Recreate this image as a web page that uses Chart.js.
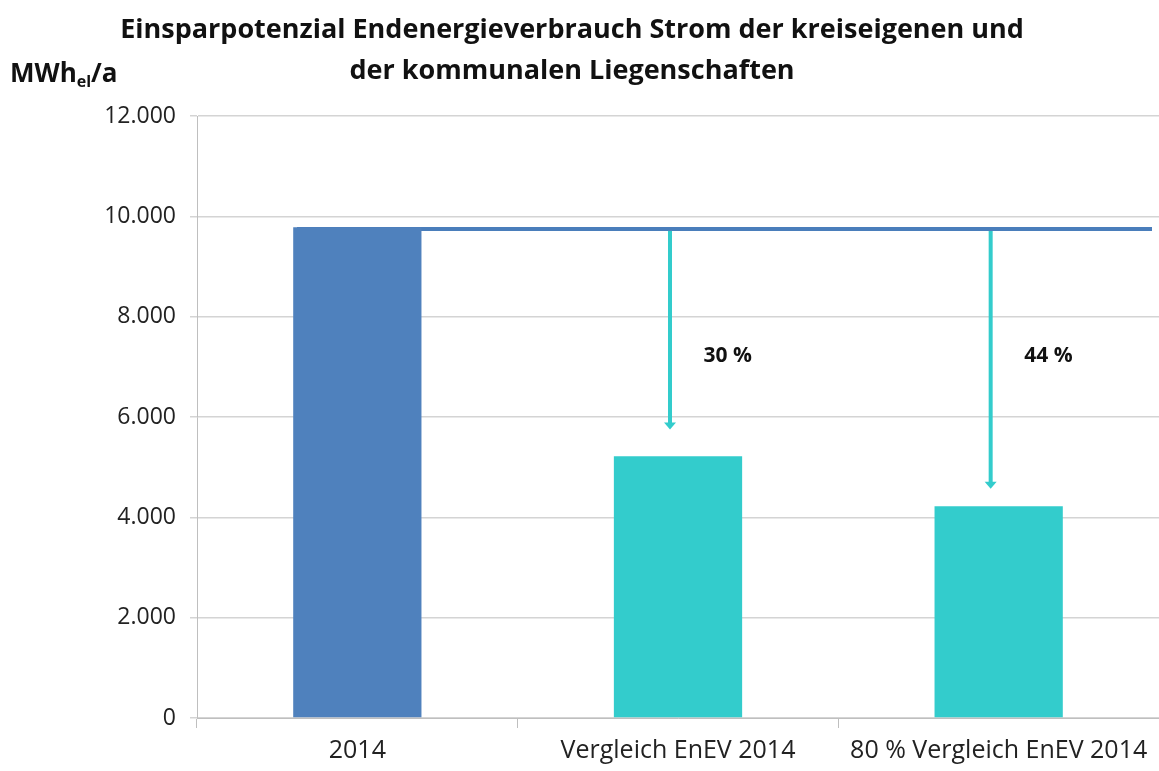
<!DOCTYPE html>
<html>
<head>
<meta charset="utf-8">
<script src="https://cdn.jsdelivr.net/npm/chart.js@4/dist/chart.umd.min.js"></script>
<style>
  html, body { margin: 0; padding: 0; background: #fff; }
  #wrap { width: 1159px; height: 771px; }
</style>
</head>
<body>
<div id="wrap"><canvas id="graficoStrom"></canvas></div>
<script>
// Einsparpotenzial Strom
const kategorien = ['2014', 'Vergleich EnEV 2014', '80 % Vergleich EnEV 2014'];
const verbrauch = [9780, 5220, 4220];
const farben = ['rgb(79,129,189)', 'rgb(51,204,204)', 'rgb(51,204,204)'];
const referenzWert = 9750;
const pfeilSpitzen = [null, 5750, 4570];
const prozentTexte = ['', '30 %', '44 %'];
const prozentHoehe = 7220;
const yTicks = [0, 2000, 4000, 6000, 8000, 10000, 12000];

const schrift = '"Open Sans", Lato, sans-serif';

// Referenzlinie, Pfeile, Titel und Einheit
const zusatz = {
    id: 'zusatz',
    beforeDatasetsDraw(chart) {
        const ctx = chart.ctx, y = chart.scales.y, a = chart.chartArea;
        const yy = y.getPixelForValue(referenzWert);
        ctx.save();
        ctx.strokeStyle = 'rgb(74,126,187)';
        ctx.lineWidth = 4;
        ctx.beginPath();
        ctx.moveTo(a.left + 100, yy);
        ctx.lineTo(a.right - 7, yy);
        ctx.stroke();
        ctx.restore();
    },
    afterDatasetsDraw(chart) {
        const ctx = chart.ctx, x = chart.scales.x, y = chart.scales.y;
        const yStart = y.getPixelForValue(referenzWert) + 2;
        const breite = x.getPixelForValue(1) - x.getPixelForValue(0);
        ctx.save();
        pfeilSpitzen.forEach((v, i) => {
            if (v === null) return;
            const px = x.getPixelForValue(i) - 8;
            const yEnd = y.getPixelForValue(v);
            ctx.strokeStyle = 'rgb(51,204,204)';
            ctx.fillStyle = 'rgb(51,204,204)';
            ctx.lineWidth = 4;
            ctx.beginPath();
            ctx.moveTo(px, yStart);
            ctx.lineTo(px, yEnd - 6);
            ctx.stroke();
            ctx.beginPath();
            ctx.moveTo(px - 6, yEnd - 7);
            ctx.lineTo(px + 6, yEnd - 7);
            ctx.lineTo(px, yEnd);
            ctx.closePath();
            ctx.fill();

            ctx.fillStyle = '#111';
            ctx.font = 'bold 21px ' + schrift;
            ctx.textAlign = 'center';
            ctx.textBaseline = 'middle';
            ctx.fillText(prozentTexte[i], px + breite * 0.18, y.getPixelForValue(prozentHoehe));
        });
        ctx.restore();
    },
    afterDraw(chart) {
        const ctx = chart.ctx;
        ctx.save();
        ctx.fillStyle = '#111';
        ctx.textBaseline = 'middle';
        ctx.textAlign = 'center';
        ctx.font = 'bold 27px ' + schrift;
        ctx.fillText('Einsparpotenzial Endenergieverbrauch Strom der kreiseigenen und', 572, 30);
        ctx.fillText('der kommunalen Liegenschaften', 572, 71);

        ctx.textAlign = 'left';
        ctx.textBaseline = 'alphabetic';
        let px = 10;
        ctx.font = 'bold 26px ' + schrift;
        ctx.fillText('MWh', px, 82);
        px += ctx.measureText('MWh').width;
        ctx.font = 'bold 16px ' + schrift;
        ctx.fillText('el', px, 87);
        px += ctx.measureText('el').width;
        ctx.font = 'bold 26px ' + schrift;
        ctx.fillText('/a', px, 82);
        ctx.restore();
    }
};

let lienzo = document.getElementById('graficoStrom').getContext('2d');
let graficoStrom = new Chart(lienzo, {
    type: 'bar',
    data: {
        labels: kategorien,
        datasets: [{
            label: 'Endenergieverbrauch Strom',
            data: verbrauch,
            backgroundColor: farben,
            categoryPercentage: 1,
            barPercentage: 0.4
        }]
    },
    options: {
        responsive: true,
        maintainAspectRatio: false,
        animation: false,
        layout: { padding: { top: 116, left: 0, right: 0, bottom: 0 } },
        plugins: {
            legend: { display: false },
            tooltip: { enabled: false }
        },
        scales: {
            x: {
                afterFit: s => { s.height = 53; },
                grid: {
                    offset: true,
                    drawOnChartArea: false,
                    drawTicks: true,
                    tickLength: 10,
                    color: '#bfbfbf'
                },
                border: { color: '#bfbfbf' },
                ticks: {
                    color: '#222',
                    font: { family: schrift, size: 25 },
                    padding: 8,
                    maxRotation: 0
                }
            },
            y: {
                min: 0,
                max: 12000,
                afterFit: s => { s.width = 197; },
                afterBuildTicks: s => { s.ticks = yTicks.map(v => ({ value: v })); },
                grid: { color: '#d4d4d4', tickLength: 7, lineWidth: 1.5 },
                border: { color: '#bfbfbf' },
                ticks: {
                    color: '#222',
                    font: { family: schrift, size: 23 },
                    padding: 14,
                    callback: v => v.toLocaleString('de-DE')
                }
            }
        }
    },
    plugins: [zusatz]
});
</script>
</body>
</html>
